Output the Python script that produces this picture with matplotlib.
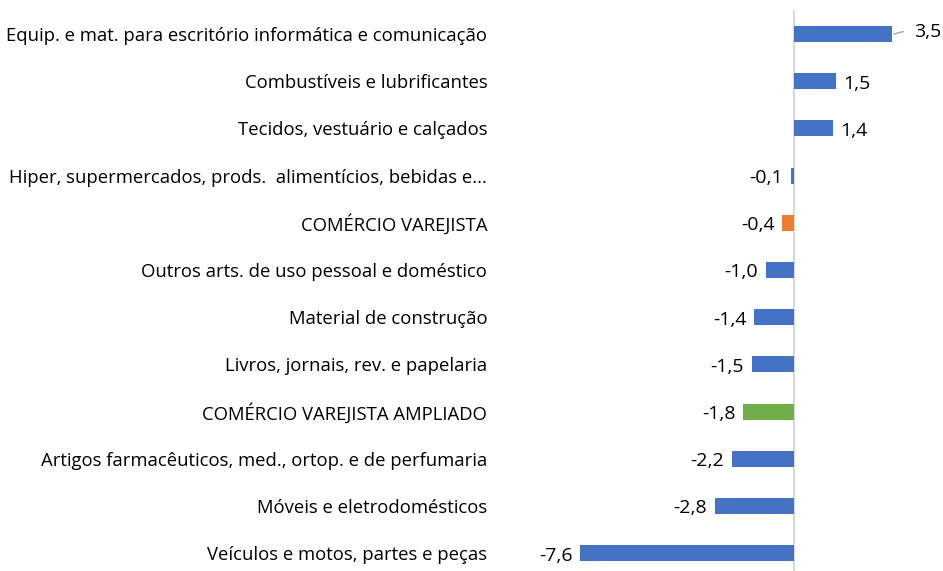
import matplotlib.pyplot as plt

categories = [
    "Equip. e mat. para escritório informática e comunicação",
    "Combustíveis e lubrificantes",
    "Tecidos, vestuário e calçados",
    "Hiper, supermercados, prods.  alimentícios, bebidas e...",
    "COMÉRCIO VAREJISTA",
    "Outros arts. de uso pessoal e doméstico",
    "Material de construção",
    "Livros, jornais, rev. e papelaria",
    "COMÉRCIO VAREJISTA AMPLIADO",
    "Artigos farmacêuticos, med., ortop. e de perfumaria",
    "Móveis e eletrodomésticos",
    "Veículos e motos, partes e peças",
]
values = [3.5, 1.5, 1.4, -0.1, -0.4, -1.0, -1.4, -1.5, -1.8, -2.2, -2.8, -7.6]
bar_colors = ["#4472C4"] * 12
bar_colors[4] = "#ED7D31"
bar_colors[8] = "#70AD47"

plt.rcParams['font.family'] = ['Open Sans', 'DejaVu Sans']

fig = plt.figure(figsize=(9.43, 5.71), dpi=100)
ax = fig.add_axes([497 / 943, 0, 1 - 497 / 943, 1 - 10 / 571])

pos = list(range(len(categories)))
ax.barh(pos, values, height=0.34, color=bar_colors)

ax.set_ylim(11.377, -0.508)
ax.set_xlim(-10.57, 5.32)

ax.set_yticks(pos)
ax.set_yticklabels(categories, fontsize=13.35, color="#000000")
ax.tick_params(axis='y', length=0, pad=7)
ax.set_xticks([])
for s in ax.spines.values():
    s.set_visible(False)
ax.axvline(0, color="#d9d9d9", lw=1.5, zorder=0)

for i, v in enumerate(values):
    lbl = f"{v:.1f}".replace(".", ",")
    if i == 0:
        ax.plot([v + 0.07, v + 0.4], [i, i - 0.05], color="#a6a6a6", lw=1)
        ax.text(v + 0.78, i - 0.05, lbl, va='center', ha='left', fontsize=14)
    elif v >= 0:
        ax.text(v + 0.25, i + 0.05, lbl, va='center', ha='left', fontsize=14)
    else:
        ax.text(v - 0.28, i + 0.05, lbl, va='center', ha='right', fontsize=14)

fig.savefig("out.png", dpi=100)
